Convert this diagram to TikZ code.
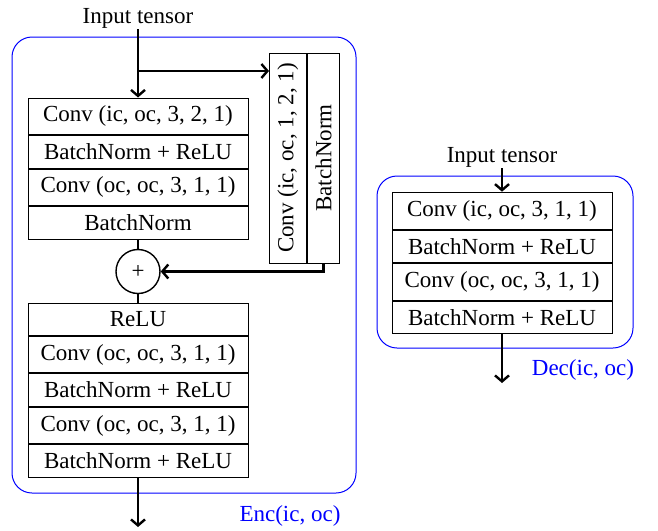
\documentclass[tikz,border=0pt]{standalone}
\usepackage{fontspec}
\setmainfont{Liberation Serif}
\usetikzlibrary{arrows.meta}
\begin{document}
\begin{tikzpicture}[x=1pt,y=-1pt,
  every node/.style={font=\fontsize{23}{26}\selectfont},
  row/.style={draw,line width=1pt,minimum width=220pt,inner xsep=2pt,inner ysep=8pt,anchor=north},
  rrow/.style={draw,line width=1pt,minimum width=210pt,inner xsep=2pt,inner ysep=8pt,anchor=north,rotate=90},
  flow/.style={line width=2.6pt,-{Straight Barb[length=6pt,width=14pt,line width=2.4pt]}},
  link/.style={line width=2.6pt},
  frame/.style={draw=blue,line width=1pt,rounded corners=20pt},
  lbl/.style={text=blue}]
\useasboundingbox (0,0) rectangle (658,530);
% Encoder frame
\draw[frame] (12,37) rectangle (356,493);
\node[inner sep=1pt] (in1) at (138,18) {Input tensor};
\node[row] (a1) at (138,97.5) {Conv (ic, oc, 3, 2, 1)};
\node[row] (a2) at (a1.south) {BatchNorm + ReLU};
\node[row] (a3) at (a2.south) {Conv (oc, oc, 3, 1, 1)};
\node[row] (a4) at (a3.south) {BatchNorm};
\node[rrow] (r1) at (269,158) {Conv (ic, oc, 1, 2, 1)};
\node[rrow] (r2) at (r1.south) {BatchNorm};
\node[draw,circle,line width=1.4pt,minimum size=44pt,inner sep=0pt] (plus) at (138,271.5) {+};
\node[row] (b1) at (138,303.3) {ReLU};
\node[row] (b2) at (b1.south) {Conv (oc, oc, 3, 1, 1)};
\node[row] (b3) at (b2.south) {BatchNorm + ReLU};
\node[row] (b4) at (b3.south) {Conv (oc, oc, 3, 1, 1)};
\node[row] (b5) at (b4.south) {BatchNorm + ReLU};
\coordinate (br) at (138,71);
\coordinate (out1) at (138,527);
\draw[flow] (in1.south) -- (a1.north);
\draw[flow] (br) -- (br -| r1.north);
\draw[flow] (r2.west) |- (plus.east);
\draw[link] (a4.south) -- (plus.north);
\draw[link] (plus.south) -- (b1.north);
\draw[flow] (b5.south) -- (out1);
\node[lbl] (enc) at (290,516) {Enc(ic, oc)};
% Decoder
\draw[frame] (377,176) rectangle (633,348);
\node[inner sep=1pt] (in2) at (502,157) {Input tensor};
\node[row] (d1) at (502,191.7) {Conv (ic, oc, 3, 1, 1)};
\node[row] (d2) at (d1.south) {BatchNorm + ReLU};
\node[row] (d3) at (d2.south) {Conv (oc, oc, 3, 1, 1)};
\node[row] (d4) at (d3.south) {BatchNorm + ReLU};
\coordinate (out2) at (502,383);
\draw[flow] (in2.south) -- (d1.north);
\draw[flow] (d4.south) -- (out2);
\node[lbl] (dec) at (583,370) {Dec(ic, oc)};
\end{tikzpicture}
\end{document}
